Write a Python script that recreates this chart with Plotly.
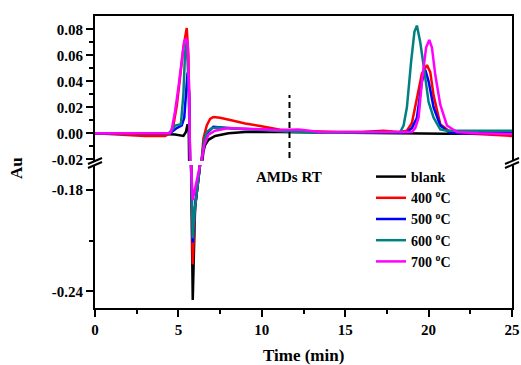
import plotly.graph_objects as go

W, H = 521, 365
ML, MR, MT, MB = 95, 9, 16, 57
PW, PH = W - ML - MR, H - MT - MB

# ---------------- data ----------------
series_names = ["blank", "400 <sup>o</sup>C", "500 <sup>o</sup>C", "600 <sup>o</sup>C", "700 <sup>o</sup>C"]
series_colors = ["#000000", "#FF0000", "#0000FF", "#008080", "#FF00FF"]

blank_t = [0, 2, 4, 4.8, 5.3, 5.45, 5.55, 5.62, 5.7, 5.76, 5.86, 6.0, 6.3, 6.4, 6.5, 6.6, 6.8, 7.2, 8.0, 9.0, 11, 14, 18, 21, 25]
blank_y = [0.0, 0.0, -0.0005, -0.001, -0.002, 0.001, 0.007, 0.003, -0.02, -0.165, -0.245, -0.19, -0.165, -0.025, -0.014, -0.009, -0.005, -0.002, 0.0, 0.001, 0.001, 0.0005, 0.0, -0.0003, 0.0]

c400_t = [0, 2, 3, 4.2, 4.5, 4.7, 4.9, 5.1, 5.3, 5.5, 5.6, 5.7, 5.76, 5.86, 6.0, 6.3, 6.4, 6.5, 6.7, 6.9, 7.1, 7.5, 8.3, 9.0, 9.9, 11.1, 12, 13, 14.5, 16, 17.3, 18.2, 18.7, 19.0, 19.3, 19.6, 19.9, 20.1, 20.3, 20.7, 21.2, 22, 23.5, 25]
c400_y = [0.0, -0.001, -0.002, -0.002, 0.0, 0.006, 0.021, 0.043, 0.066, 0.081, 0.06, -0.02, -0.165, -0.224, -0.19, -0.165, -0.02, -0.004, 0.006, 0.011, 0.0125, 0.012, 0.0097, 0.0075, 0.0056, 0.0028, 0.002, 0.0015, 0.001, 0.001, 0.002, 0.001, 0.002, 0.008, 0.028, 0.046, 0.0525, 0.047, 0.029, 0.007, 0.002, 0.0, -0.001, -0.002]

c500_t = [0, 3, 4.5, 4.9, 5.2, 5.35, 5.45, 5.55, 5.65, 5.72, 5.76, 5.86, 6.0, 6.3, 6.4, 6.55, 6.7, 7.1, 7.6, 8.5, 10, 12, 14, 17, 18.4, 18.7, 19.0, 19.3, 19.6, 19.8, 20.0, 20.3, 20.7, 21.2, 22, 25]
c500_y = [0.0, 0.0, 0.0, 0.004, 0.006, 0.012, 0.028, 0.0466, 0.03, -0.02, -0.165, -0.211, -0.19, -0.165, -0.02, -0.006, 0.0, 0.005, 0.0045, 0.0035, 0.003, 0.0015, 0.0005, 0.001, 0.0005, 0.001, 0.004, 0.012, 0.04, 0.0487, 0.04, 0.02, 0.006, 0.001, 0.0, 0.0]

c600_t = [0, 3, 4.4, 4.6, 4.8, 5.15, 5.3, 5.4, 5.5, 5.6, 5.7, 5.76, 5.86, 6.0, 6.3, 6.4, 6.55, 6.7, 7.0, 7.3, 8, 10, 12, 14, 16, 17.5, 18.3, 18.5, 18.7, 18.95, 19.15, 19.3, 19.5, 19.7, 20.0, 20.3, 20.7, 21.1, 22, 23, 25]
c600_y = [0.0, 0.0, 0.0, 0.002, 0.006, 0.007, 0.03, 0.062, 0.07, 0.04, -0.02, -0.165, -0.2085, -0.19, -0.165, -0.02, -0.005, 0.001, 0.004, 0.0045, 0.004, 0.003, 0.001, 0.0005, 0.001, 0.001, 0.001, 0.006, 0.02, 0.055, 0.078, 0.0828, 0.07, 0.052, 0.024, 0.012, 0.003, 0.002, 0.002, 0.002, 0.002]

c700_t = [0, 3, 4.3, 4.5, 4.6, 4.8, 5.0, 5.2, 5.35, 5.45, 5.55, 5.64, 5.7, 5.76, 5.86, 6.02, 6.3, 6.4, 6.55, 6.8, 7.2, 8.0, 9, 10, 11, 12.2, 12.6, 13.5, 15, 17, 18.5, 19.0, 19.2, 19.4, 19.6, 19.85, 20.04, 20.2, 20.4, 20.7, 21.1, 21.7, 23, 25]
c700_y = [0.0, 0.0, 0.0, 0.0, 0.003, 0.017, 0.035, 0.058, 0.071, 0.0725, 0.07, 0.035, -0.02, -0.165, -0.186, -0.178, -0.165, -0.02, -0.009, -0.001, 0.002, 0.004, 0.0035, 0.003, 0.0025, 0.003, 0.0025, 0.001, 0.001, 0.001, 0.001, 0.001, 0.004, 0.012, 0.04, 0.066, 0.0718, 0.066, 0.045, 0.022, 0.006, 0.001, 0.0, -0.0005]

series_t = [blank_t, c400_t, c500_t, c600_t, c700_t]
series_y = [blank_y, c400_y, c500_y, c600_y, c700_y]

amd_rt = 11.66
amd_rt_span = [-0.019, 0.0295]
amd_label = "AMDs RT"

x_ticks = [0, 5, 10, 15, 20, 25]
x_labels = ["0", "5", "10", "15", "20", "25"]
top_ticks = [-0.02, 0.0, 0.02, 0.04, 0.06, 0.08]
top_labels = ["-0.02", "0.00", "0.02", "0.04", "0.06", "0.08"]
top_minor = [-0.01, 0.01, 0.03, 0.05, 0.07]
bot_ticks = [-0.24, -0.18]
bot_labels = ["-0.24", "-0.18"]
bot_minor = [-0.21]

# ---------------- layout helpers (target page pixels -> paper) ----------------
def px(xp):
    return (xp - ML) / PW

def py(yp):
    return (H - MB - yp) / PH

FONT = "Liberation Serif, Times New Roman, serif"
top_dom = [py(161), 1.0]
bot_dom = [0.0, py(165)]

fig = go.Figure()
for name, col, t, y in zip(series_names, series_colors, series_t, series_y):
    fig.add_trace(go.Scatter(x=t, y=y, mode="lines", name=name, legendgroup=name,
                             line=dict(color=col, width=2.5), xaxis="x", yaxis="y",
                             showlegend=True))
    fig.add_trace(go.Scatter(x=t, y=y, mode="lines", name=name, legendgroup=name,
                             line=dict(color=col, width=2.5), xaxis="x2", yaxis="y2",
                             showlegend=False))

axis_common = dict(showgrid=False, zeroline=False, linecolor="black", linewidth=2,
                   automargin=False,
                   ticks="outside", tickcolor="black", tickwidth=2, ticklen=7,
                   tickfont=dict(family=FONT, size=15, color="black", weight="bold"))

fig.update_layout(
    width=W, height=H,
    margin=dict(l=ML, r=MR, t=MT, b=MB, autoexpand=False),
    paper_bgcolor="white", plot_bgcolor="white",
    font=dict(family=FONT, color="black"),
    xaxis=dict(axis_common, range=[0, 25], anchor="y", showline=True, mirror=False,
               tickvals=x_ticks, ticktext=x_labels,
               minor=dict(dtick=2.5, tick0=0, ticks="outside", ticklen=4, tickwidth=2, tickcolor="black")),
    yaxis=dict(axis_common, domain=bot_dom, range=[-0.2498, -0.1653], anchor="x", showline=True,
               mirror=True, tickvals=bot_ticks, ticktext=bot_labels,
               minor=dict(tickvals=bot_minor, ticks="outside", ticklen=4, tickwidth=2, tickcolor="black")),
    xaxis2=dict(axis_common, range=[0, 25], matches="x", anchor="y2", side="top", showline=True,
                mirror=False, ticks="", showticklabels=False),
    yaxis2=dict(axis_common, domain=top_dom, range=[-0.0213, 0.0902], anchor="x2", showline=True,
                mirror=True, tickvals=top_ticks, ticktext=top_labels,
                minor=dict(tickvals=top_minor, ticks="outside", ticklen=4, tickwidth=2, tickcolor="black")),
    legend=dict(x=px(371), y=py(161), xanchor="left", yanchor="top",
                bgcolor="rgba(0,0,0,0)", borderwidth=0, tracegroupgap=0,
                font=dict(family=FONT, size=14, color="black", weight="bold")),
    showlegend=True,
)

# AMDs RT dashed marker
fig.add_shape(type="line", xref="x2", yref="y2", x0=amd_rt, x1=amd_rt,
              y0=amd_rt_span[0], y1=amd_rt_span[1],
              line=dict(color="black", width=2, dash="6px,4px"))
fig.add_annotation(x=amd_rt, xref="x", y=py(177), yref="paper", text=amd_label,
                   showarrow=False, xanchor="center", yanchor="middle",
                   font=dict(family=FONT, size=15, color="black", weight="bold"))

# axis titles
fig.add_annotation(x=0.5, y=py(355), xref="paper", yref="paper", text="Time (min)",
                   showarrow=False, xanchor="center", yanchor="middle",
                   font=dict(family=FONT, size=17, color="black", weight="bold"))
fig.add_annotation(x=px(16), y=py(168), xref="paper", yref="paper", text="Au", textangle=-90,
                   showarrow=False, xanchor="center", yanchor="middle",
                   font=dict(family=FONT, size=17, color="black", weight="bold"))

# axis break marks
for xc in (95, 512):
    for dy in (-2, 2):
        fig.add_shape(type="line", xref="paper", yref="paper",
                      x0=px(xc - 7), y0=py(166 + dy), x1=px(xc + 7), y1=py(160 + dy),
                      line=dict(color="black", width=2))

fig.write_html(
    "out.html",
    config={"displayModeBar": False},
    post_script="document.body.style.margin='0';document.body.style.padding='0';"
                "document.body.style.overflow='hidden';",
)
